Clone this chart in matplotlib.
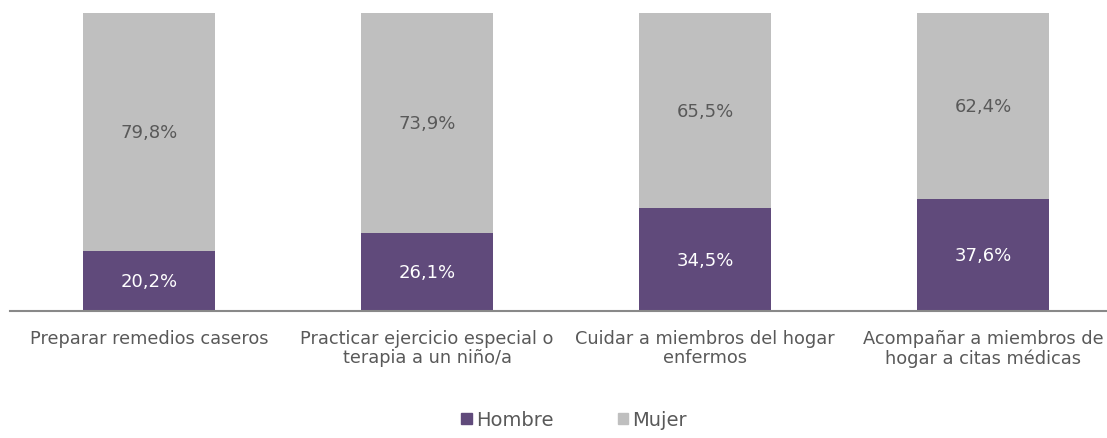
import matplotlib
matplotlib.use("Agg")
import matplotlib.pyplot as plt
from matplotlib.patches import Patch

categories = ["Preparar remedios caseros",
              "Practicar ejercicio especial o\nterapia a un niño/a",
              "Cuidar a miembros del hogar\nenfermos",
              "Acompañar a miembros de\nhogar a citas médicas"]
hombre = [20.2, 26.1, 34.5, 37.6]
mujer = [79.8, 73.9, 65.5, 62.4]
series_names = ["Hombre", "Mujer"]

purple = "#604A7B"
gray = "#BFBFBF"
textc = "#595959"

plt.rcParams['font.family'] = ['DejaVu Sans']

W, H = 1107, 439
fig = plt.figure(figsize=(W/100, H/100), dpi=100)
ax_left, ax_right = 10, 1107
ax_top, ax_bot = 14, 312
ax = fig.add_axes([ax_left/W, 1-ax_bot/H, (ax_right-ax_left)/W, (ax_bot-ax_top)/H])

x = list(range(len(categories)))
step = 278
c0 = 149
ax.set_xlim((ax_left-c0)/step, (ax_right-c0)/step)
ax.set_ylim(0, 100)
bw = 132/step
ax.bar(x, hombre, bw, color=purple, label=series_names[0], zorder=2)
ax.bar(x, mujer, bw, bottom=hombre, color=gray, label=series_names[1], zorder=2)

for i in x:
    ax.text(i, hombre[i]/2, f"{hombre[i]:.1f}%".replace('.', ','), ha='center', va='center',
            color='white', fontsize=13)
    ax.text(i, hombre[i] + mujer[i]/2, f"{mujer[i]:.1f}%".replace('.', ','), ha='center', va='center',
            color=textc, fontsize=13)

for s in ['top', 'right', 'left']:
    ax.spines[s].set_visible(False)
ax.spines['bottom'].set_color('#898989')
ax.spines['bottom'].set_linewidth(1.5)
ax.set_yticks([])
ax.set_xticks(x)
ax.set_xticklabels(categories, fontsize=12.8, color=textc, linespacing=1.1)
ax.tick_params(axis='x', length=0, pad=13)

handles = [Patch(color=purple), Patch(color=gray)]
fig.legend(handles, series_names, loc='center', bbox_to_anchor=(574/W, 1-421/H), ncol=2,
           frameon=False, fontsize=14, handlelength=0.55, handleheight=0.55,
           handletextpad=0.2, columnspacing=3.3, labelcolor=textc)

fig.savefig("out.png", dpi=100)
